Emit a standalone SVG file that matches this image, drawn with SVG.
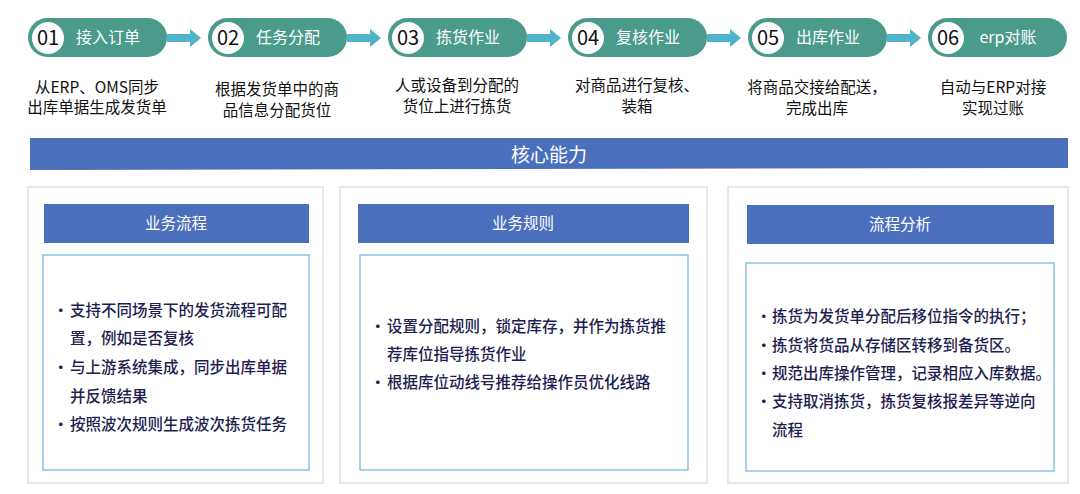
<svg xmlns="http://www.w3.org/2000/svg" width="1080" height="494" viewBox="0 0 1080 494">
<style>
text{font-family:"Noto Sans CJK SC","Liberation Sans",sans-serif}
.pill{fill:#4a9b8c}
.circ{fill:#fff;stroke:#4a9b8c;stroke-width:2}
.num{font-size:20px;fill:#111;text-anchor:middle}
.lbl{font-size:16px;fill:#fff;text-anchor:middle}
.desc{font-size:15.5px;fill:#111;text-anchor:middle}
.outer{fill:#fff;stroke:#e6e6ec;stroke-width:2}
.hdr{fill:#4a70bd}
.hdrt{font-size:15.5px;fill:#fff;text-anchor:middle}
.inner{fill:#fff;stroke:#6cb4e0;stroke-width:1.2}
.b{font-size:15.5px;fill:#1e1e50;font-weight:500}
.arr{fill:#4fb4c8}
</style>
<rect width="1080" height="494" fill="#fff"/>
<g id="connectors">
<polygon class="arr" points="167,34 190,34 190,29 201,38 190,47 190,42 167,42"/>
<polygon class="arr" points="347,34 370,34 370,29 381,38 370,47 370,42 347,42"/>
<polygon class="arr" points="527,34 550,34 550,29 561,38 550,47 550,42 527,42"/>
<polygon class="arr" points="707,34 730,34 730,29 741,38 730,47 730,42 707,42"/>
<polygon class="arr" points="887,34 910,34 910,29 921,38 910,47 910,42 887,42"/>
</g>
<g id="s01"><rect class="pill" x="28" y="18" width="139" height="39" rx="19.5"/><circle class="circ" cx="48" cy="38" r="17"/><text class="num" x="48" y="45">01</text><text class="lbl" x="108" y="43">接入订单</text>
<text class="desc" x="97" y="93">从ERP、OMS同步</text><text class="desc" x="97" y="113">出库单据生成发货单</text></g>
<g id="s02"><rect class="pill" x="208" y="18" width="139" height="39" rx="19.5"/><circle class="circ" cx="228" cy="38" r="17"/><text class="num" x="228" y="45">02</text><text class="lbl" x="288" y="43">任务分配</text>
<text class="desc" x="277" y="95">根据发货单中的商</text><text class="desc" x="277" y="116">品信息分配货位</text></g>
<g id="s03"><rect class="pill" x="388" y="18" width="139" height="39" rx="19.5"/><circle class="circ" cx="408" cy="38" r="17"/><text class="num" x="408" y="45">03</text><text class="lbl" x="468" y="43">拣货作业</text>
<text class="desc" x="457" y="91">人或设备到分配的</text><text class="desc" x="457" y="112">货位上进行拣货</text></g>
<g id="s04"><rect class="pill" x="568" y="18" width="139" height="39" rx="19.5"/><circle class="circ" cx="588" cy="38" r="17"/><text class="num" x="588" y="45">04</text><text class="lbl" x="648" y="43">复核作业</text>
<text class="desc" x="637" y="91">对商品进行复核、</text><text class="desc" x="637" y="112">装箱</text></g>
<g id="s05"><rect class="pill" x="748" y="18" width="139" height="39" rx="19.5"/><circle class="circ" cx="768" cy="38" r="17"/><text class="num" x="768" y="45">05</text><text class="lbl" x="828" y="43">出库作业</text>
<text class="desc" x="817" y="93">将商品交接给配送，</text><text class="desc" x="817" y="114">完成出库</text></g>
<g id="s06"><rect class="pill" x="928" y="18" width="139" height="39" rx="19.5"/><circle class="circ" cx="948" cy="38" r="17"/><text class="num" x="948" y="45">06</text><text class="lbl" x="1008" y="43">erp对账</text>
<text class="desc" x="993" y="93">自动与ERP对接</text><text class="desc" x="993" y="114">实现过账</text></g>
<g id="core"><polygon fill="#4a70bd" points="30,138 1068,138 1068,168 30,170"/><text x="549" y="162" font-size="19" fill="#fff" text-anchor="middle">核心能力</text></g>
<g id="p1"><rect class="outer" x="28" y="187" width="295" height="296"/><rect class="hdr" x="44" y="204" width="265" height="39"/><text class="hdrt" x="176" y="229">业务流程</text><rect class="inner" x="43" y="255" width="266" height="215"/>
<text class="b" x="53" y="316">•</text><text class="b" x="70" y="316">支持不同场景下的发货流程可配</text><text class="b" x="70" y="344">置，例如是否复核</text>
<text class="b" x="53" y="373">•</text><text class="b" x="70" y="373">与上游系统集成，同步出库单据</text><text class="b" x="70" y="402">并反馈结果</text>
<text class="b" x="53" y="430">•</text><text class="b" x="70" y="430">按照波次规则生成波次拣货任务</text></g>
<g id="p2"><rect class="outer" x="340" y="187" width="367" height="296"/><rect class="hdr" x="358" y="204" width="331" height="39"/><text class="hdrt" x="523" y="229">业务规则</text><rect class="inner" x="360" y="255" width="328" height="215"/>
<text class="b" x="370" y="332">•</text><text class="b" x="387" y="332">设置分配规则，锁定库存，并作为拣货推</text><text class="b" x="387" y="360">荐库位指导拣货作业</text>
<text class="b" x="370" y="388">•</text><text class="b" x="387" y="388">根据库位动线号推荐给操作员优化线路</text></g>
<g id="p3"><rect class="outer" x="728" y="187" width="340" height="296"/><rect class="hdr" x="747" y="205" width="307" height="39"/><text class="hdrt" x="900" y="230">流程分析</text><rect class="inner" x="746" y="263" width="308" height="208"/>
<text class="b" x="756" y="322">•</text><text class="b" x="772" y="322">拣货为发货单分配后移位指令的执行；</text>
<text class="b" x="756" y="351">•</text><text class="b" x="772" y="351">拣货将货品从存储区转移到备货区。</text>
<text class="b" x="756" y="379">•</text><text class="b" x="772" y="379">规范出库操作管理，记录相应入库数据。</text>
<text class="b" x="756" y="407">•</text><text class="b" x="772" y="407">支持取消拣货，拣货复核报差异等逆向</text><text class="b" x="772" y="436">流程</text></g>
</svg>
